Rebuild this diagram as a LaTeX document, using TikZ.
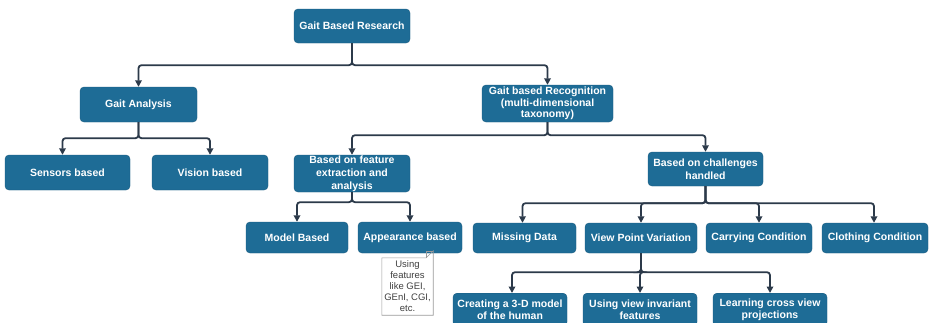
\documentclass[tikz,border=0pt]{standalone}
\usepackage{fontspec}
\setmainfont{Liberation Sans}
\usetikzlibrary{arrows.meta}
\definecolor{boxblue}{HTML}{1E6C96}
\definecolor{linecol}{HTML}{2C3A4A}
\definecolor{notegray}{HTML}{9A9A9A}
\tikzset{
  box/.style={fill=boxblue, draw=boxblue!85!black, line width=0.4pt, rounded corners=4pt,
    text=white, font=\bfseries\fontsize{10.5}{12.5}\selectfont, align=center, inner sep=0pt},
  conn/.style={draw=linecol, line width=1.8pt, rounded corners=3pt,
    -{Triangle[length=6.5pt,width=6.5pt]}},
  notetext/.style={font=\fontsize{9.5}{11}\selectfont, text=black!75, align=center, inner sep=0pt}
}
\begin{document}
\begin{tikzpicture}[x=1pt,y=-1pt]
\useasboundingbox (0,0) rectangle (929,322);
\fill[white] (0,0) rectangle (929,322);
% nodes
\node[box, minimum width=116pt, minimum height=34pt] (root) at (352,26) {Gait Based Research};
\node[box, minimum width=117pt, minimum height=35pt] (ga) at (138.5,104.5) {Gait Analysis};
\node[box, minimum width=131pt, minimum height=37pt, font=\bfseries\fontsize{10.5}{11.5}\selectfont] (rec) at (547.5,103.5) {Gait based Recognition\\(multi-dimensional\\taxonomy)};
\node[box, minimum width=125pt, minimum height=35pt] (sens) at (67.5,172.5) {Sensors based};
\node[box, minimum width=116pt, minimum height=35pt] (vis) at (210,172.5) {Vision based};
\node[box, minimum width=116pt, minimum height=37pt, font=\bfseries\fontsize{10.5}{13}\selectfont] (feat) at (352,173.5) {Based on feature\\extraction and\\analysis};
\node[box, minimum width=115pt, minimum height=34pt] (chal) at (705.5,169) {Based on challenges\\handled};
\node[box, minimum width=102pt, minimum height=31pt] (model) at (297,237.5) {Model Based};
\node[box, minimum width=104pt, minimum height=31pt] (app) at (410,237.5) {Appearance based};
\node[box, minimum width=103pt, minimum height=30pt] (miss) at (524.5,238) {Missing Data};
\node[box, minimum width=112pt, minimum height=30pt] (vpv) at (641,238) {View Point Variation};
\node[box, minimum width=106pt, minimum height=30pt] (carry) at (759,238) {Carrying Condition};
\node[box, minimum width=106pt, minimum height=30pt] (cloth) at (875,238) {Clothing Condition};
\node[box, minimum width=114pt, minimum height=33pt, anchor=north] (c3d) at (510,293) {Creating a 3-D model\\of the human};
\node[box, minimum width=114pt, minimum height=33pt, anchor=north] (inv) at (640,293) {Using view invariant\\features};
\node[box, minimum width=114pt, minimum height=33pt, anchor=north] (learn) at (770,293) {Learning cross view\\projections};
% note
\node[notetext, minimum width=51pt, minimum height=57pt] (note) at (407.5,286.5) {Using\\features\\like GEI,\\GEnI, CGI,\\etc.};
\draw[notegray, line width=0.6pt, fill=none]
  (note.north west) -- ([xshift=-7pt]note.north east) -- ([yshift=7pt]note.north east)
  -- (note.south east) -- (note.south west) -- cycle;
\draw[notegray, line width=0.6pt]
  ([xshift=-7pt]note.north east) -- ([xshift=-7pt,yshift=7pt]note.north east) -- ([yshift=7pt]note.north east);
% connectors
\draw[conn] (root.south) -- ++(0,22) -| (ga.north);
\draw[conn] (root.south) -- ++(0,22) -| (rec.north);
\draw[conn] (ga.south) -- ++(0,16) -| ([xshift=-5pt]sens.north);
\draw[conn] (ga.south) -- ++(0,16) -| (vis.north);
\draw[conn] (rec.south) -- ++(0,13) -| (feat.north);
\draw[conn] (rec.south) -- ++(0,13) -| (chal.north);
\draw[conn] (feat.south) -- ++(0,10) -| (model.north);
\draw[conn] (feat.south) -- ++(0,10) -| (app.north);
\draw[conn] (chal.south) -- ++(0,17) -| ([xshift=-2pt]miss.north);
\draw[conn] (chal.south) -- ++(0,17) -| (vpv.north);
\draw[conn] (chal.south) -- ++(0,17) -| (carry.north);
\draw[conn] (chal.south) -- ++(0,17) -| ([xshift=-1pt]cloth.north);
\draw[conn] (vpv.south) -- ++(0,19) -| ([xshift=2pt]c3d.north);
\draw[conn] (vpv.south) -- ++(0,19) -| (inv.north);
\draw[conn] (vpv.south) -- ++(0,19) -| (learn.north);
\end{tikzpicture}
\end{document}
